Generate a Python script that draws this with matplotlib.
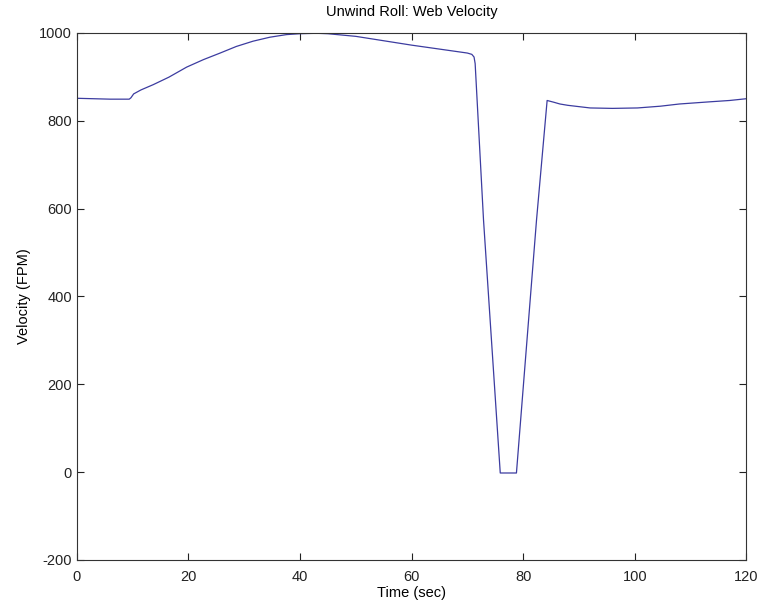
import matplotlib
matplotlib.use('Agg')
import matplotlib.pyplot as plt

# Unwind roll web velocity
time_s = [0, 3, 6, 9.4, 9.7, 10.2, 11.5, 13.7, 16.5, 19.7, 22.7, 25.7, 28.6, 31.6,
          34.6, 37.6, 40, 43, 45, 50, 55, 60, 65, 70, 70.8, 71.2, 71.4, 72.9,
          75.9, 78.8, 82.4, 84.3, 85.5, 86.6, 88, 90, 92, 96, 100.5, 104.6,
          108, 113.5, 117, 120]
velocity = [851, 850, 849, 849, 852, 861, 870, 882, 899, 922, 939, 954, 969, 981,
            990, 996, 998, 999, 998, 992, 982, 972, 963, 954, 951, 945, 930, 574,
            -2, -2, 574, 846, 842, 838, 835, 832, 829, 828, 829, 833, 838, 843,
            846, 850]

plt.rcParams['font.family'] = ['Liberation Sans', 'DejaVu Sans']
plt.rcParams['axes.unicode_minus'] = False

fig = plt.figure(figsize=(7.6, 6.08), dpi=100)
ax = fig.add_axes([0.101, 0.079, 0.881, 0.867])
ax.plot(time_s, velocity, color='#3c3ca0', linewidth=0.9)

ax.set_xlim(0, 120)
ax.set_ylim(-200, 1000)
ax.set_xticks([0, 20, 40, 60, 80, 100, 120])
ax.set_yticks([-200, 0, 200, 400, 600, 800, 1000])
ax.tick_params(direction='in', top=True, right=True, length=5, width=0.8,
               labelsize=10.5, colors='#222222')
ax.tick_params(axis='x', pad=7)
for s in ax.spines.values():
    s.set_linewidth(0.8)
    s.set_color('#333333')

ax.set_title('Unwind Roll: Web Velocity', fontsize=10.5, pad=12)
ax.set_xlabel('Time (sec)', fontsize=10.5, labelpad=2)
ax.set_ylabel('Velocity (FPM)', fontsize=10.5, labelpad=6)

fig.savefig('out.png', dpi=100)
